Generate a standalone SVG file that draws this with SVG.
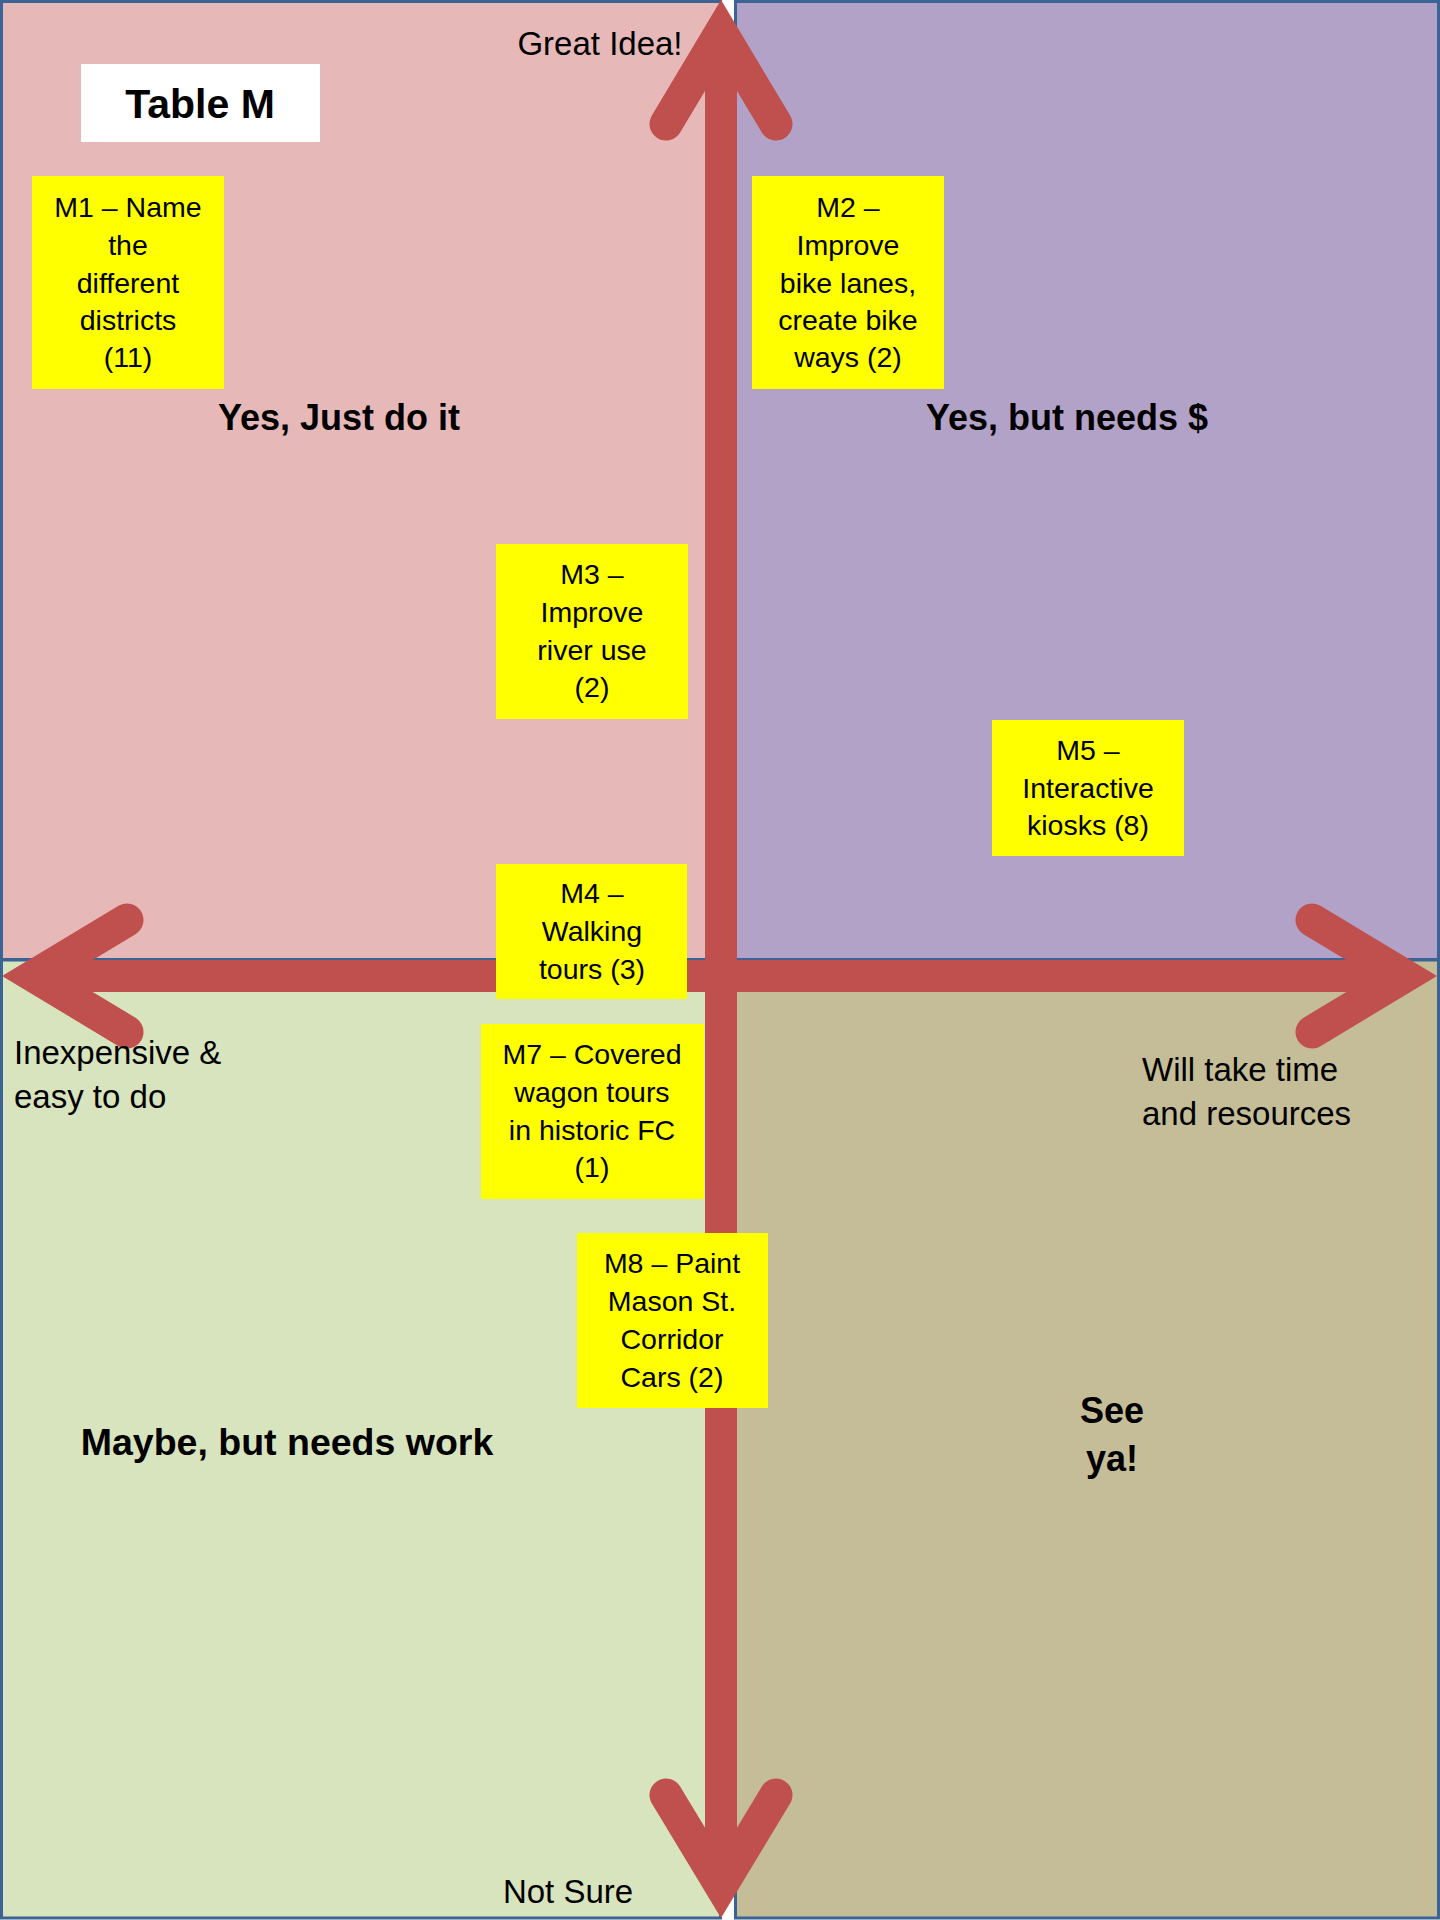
<svg xmlns="http://www.w3.org/2000/svg" width="1440" height="1920" viewBox="0 0 1440 1920">
  <style>
    .quad { stroke: #3b6394; stroke-width: 3; }
    .note { fill: #ffff00; }
    .nt { font-family: "Liberation Sans", Arial, sans-serif; font-size: 28.5px; fill: #000; text-anchor: middle; }
    .lbl { font-family: "Liberation Sans", Arial, sans-serif; font-size: 33px; fill: #000; }
    .big { font-family: "Liberation Sans", Arial, sans-serif; font-size: 36px; font-weight: bold; fill: #000; text-anchor: middle; }
    .axis { fill: none; stroke: #c0504d; stroke-width: 32; }
    .head { fill: none; stroke: #c0504d; stroke-width: 33; stroke-linecap: round; stroke-linejoin: miter; stroke-miterlimit: 10; }
  </style>
  <rect x="0" y="0" width="1440" height="1920" fill="#ffffff"/>

  <g id="quadrants">
    <rect id="q-yes-just-do-it" class="quad" x="1.5" y="1.5" width="719" height="958" fill="#e6b9b8"/>
    <rect id="q-yes-needs-money" class="quad" x="735.5" y="1.5" width="703" height="958" fill="#b3a2c7"/>
    <rect id="q-maybe" class="quad" x="1.5" y="960" width="719" height="958" fill="#d7e4bd"/>
    <rect id="q-see-ya" class="quad" x="735.5" y="960" width="703" height="958" fill="#c4bd97"/>
  </g>

  <g id="connectors">
    <line class="axis" x1="721" y1="31" x2="721" y2="1887"/>
    <path class="head" d="M666,124 L721,32 L776,124"/>
    <path class="head" d="M666,1795 L721,1886 L776,1795"/>
    <line class="axis" x1="33" y1="976" x2="1406" y2="976"/>
    <path class="head" d="M127,920 L34,976 L127,1032"/>
    <path class="head" d="M1312,920 L1405,976 L1312,1032"/>
  </g>

  <g id="axis-labels">
    <text class="lbl" x="600" y="55" text-anchor="middle">Great Idea!</text>
    <text class="lbl" x="568" y="1903" text-anchor="middle">Not Sure</text>
    <text class="lbl" x="14" y="1064">Inexpensive &amp;</text>
    <text class="lbl" x="14" y="1108">easy to do</text>
    <text class="lbl" x="1142" y="1081">Will take time</text>
    <text class="lbl" x="1142" y="1125">and resources</text>
  </g>

  <g id="quadrant-labels">
    <text class="big" x="339" y="430">Yes, Just do it</text>
    <text class="big" x="1067" y="430">Yes, but needs $</text>
    <text class="big" x="287" y="1455" style="font-size:37.5px">Maybe, but needs work</text>
    <text class="big" x="1112" y="1423">See</text>
    <text class="big" x="1112" y="1471">ya!</text>
  </g>

  <g id="title">
    <rect x="81" y="64" width="239" height="78" fill="#ffffff"/>
    <text x="200" y="118" font-family="'Liberation Sans', Arial, sans-serif" font-size="41" font-weight="bold" text-anchor="middle" fill="#000">Table M</text>
  </g>

  <g id="M1">
    <rect class="note" x="32" y="176" width="192" height="213"/>
    <text class="nt" x="128" y="217">M1 – Name</text>
    <text class="nt" x="128" y="255">the</text>
    <text class="nt" x="128" y="293">different</text>
    <text class="nt" x="128" y="330">districts</text>
    <text class="nt" x="128" y="367">(11)</text>
  </g>

  <g id="M2">
    <rect class="note" x="752" y="176" width="192" height="213"/>
    <text class="nt" x="848" y="217">M2 –</text>
    <text class="nt" x="848" y="255">Improve</text>
    <text class="nt" x="848" y="293">bike lanes,</text>
    <text class="nt" x="848" y="330">create bike</text>
    <text class="nt" x="848" y="367">ways (2)</text>
  </g>

  <g id="M3">
    <rect class="note" x="496" y="544" width="192" height="175"/>
    <text class="nt" x="592" y="584">M3 –</text>
    <text class="nt" x="592" y="622">Improve</text>
    <text class="nt" x="592" y="660">river use</text>
    <text class="nt" x="592" y="697">(2)</text>
  </g>

  <g id="M5">
    <rect class="note" x="992" y="720" width="192" height="136"/>
    <text class="nt" x="1088" y="760">M5 –</text>
    <text class="nt" x="1088" y="798">Interactive</text>
    <text class="nt" x="1088" y="835">kiosks (8)</text>
  </g>

  <g id="M4">
    <rect class="note" x="496" y="864" width="191" height="135"/>
    <text class="nt" x="592" y="903">M4 –</text>
    <text class="nt" x="592" y="941">Walking</text>
    <text class="nt" x="592" y="979">tours (3)</text>
  </g>

  <g id="M7">
    <rect class="note" x="481" y="1024" width="223" height="175"/>
    <text class="nt" x="592" y="1064">M7 – Covered</text>
    <text class="nt" x="592" y="1102">wagon tours</text>
    <text class="nt" x="592" y="1140">in historic FC</text>
    <text class="nt" x="592" y="1177">(1)</text>
  </g>

  <g id="M8">
    <rect class="note" x="577" y="1233" width="191" height="175"/>
    <text class="nt" x="672" y="1273">M8 – Paint</text>
    <text class="nt" x="672" y="1311">Mason St.</text>
    <text class="nt" x="672" y="1349">Corridor</text>
    <text class="nt" x="672" y="1387">Cars (2)</text>
  </g>
</svg>
